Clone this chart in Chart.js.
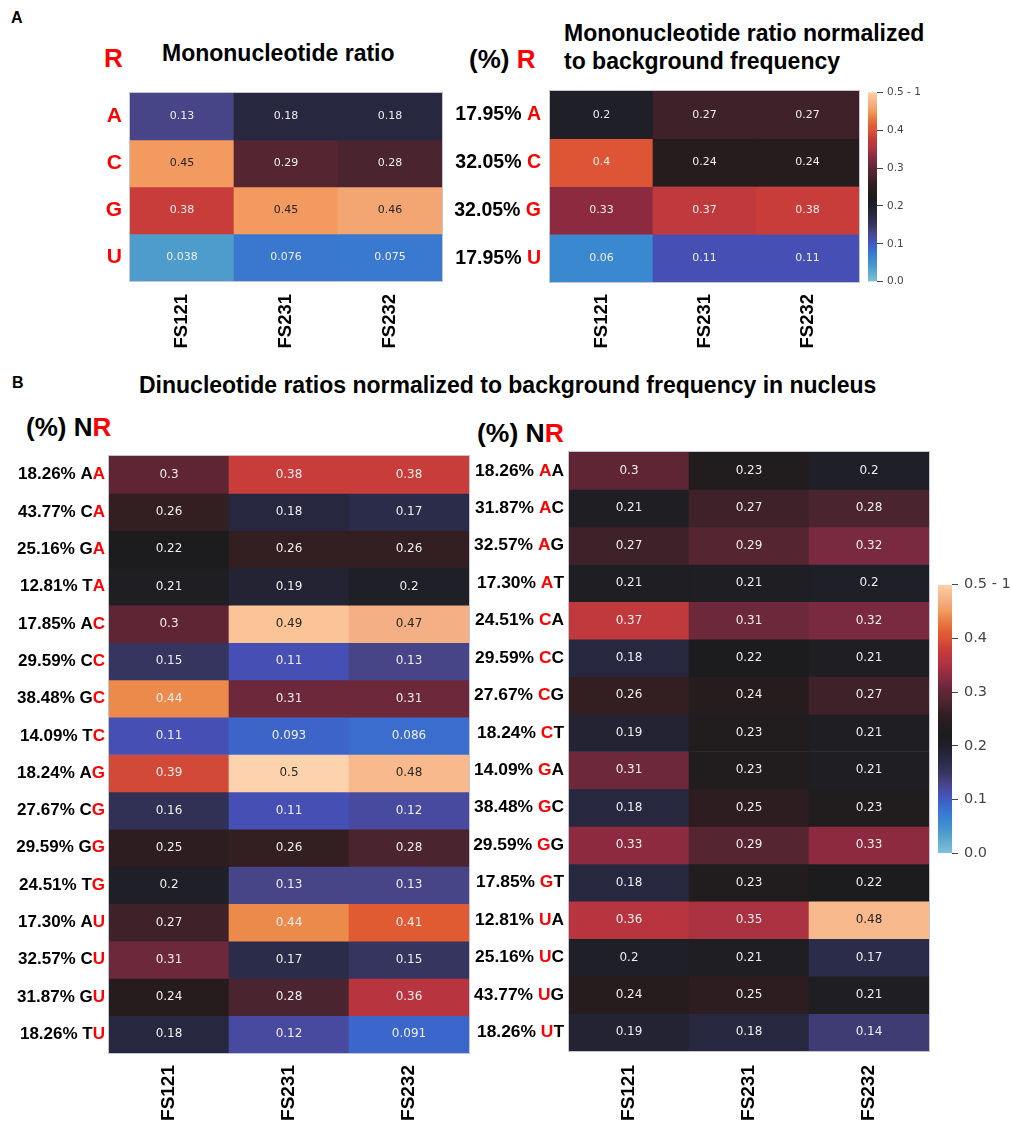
<!DOCTYPE html>
<html>
<head>
<meta charset="utf-8">
<script src="https://cdn.jsdelivr.net/npm/chart.js@4.4.0/dist/chart.umd.min.js"></script>
<style>
    body { margin: 0; background: #fff; width: 1011px; height: 1123px; position: relative; overflow: hidden; font-family: "Liberation Sans", Arial, sans-serif; }
    .t { position: absolute; font-weight: bold; white-space: nowrap; color: #000; line-height: 1; }
    .red { color: #ff0000; }
    canvas { position: absolute; }
</style>
</head>
<body>
<div class="t" style="left:11px;top:10px;font-size:16px">A</div>
<div class="t red" style="left:104px;top:45px;font-size:26px">R</div>
<div class="t" style="left:162px;top:42px;font-size:23px">Mononucleotide ratio</div>
<div class="t" style="left:469px;top:46px;font-size:26px">(%) <span class="red">R</span></div>
<div class="t" style="left:564px;top:21.5px;font-size:23px">Mononucleotide ratio normalized</div>
<div class="t" style="left:564px;top:49.5px;font-size:23px">to background frequency</div>

<div class="t" style="left:12px;top:375px;font-size:16px">B</div>
<div class="t" style="left:139px;top:373.5px;font-size:23px">Dinucleotide ratios normalized to background frequency in nucleus</div>
<div class="t" style="left:26px;top:414px;font-size:26px">(%) N<span class="red">R</span></div>
<div class="t" style="left:477px;top:419.5px;font-size:26.5px">(%) N<span class="red">R</span></div>

<canvas id="monoRaw"></canvas>
<canvas id="monoNorm"></canvas>
<canvas id="monoBar"></canvas>
<canvas id="diLeft"></canvas>
<canvas id="diRight"></canvas>
<canvas id="diBar"></canvas>

<script>
// --- dati ---
const samples = ["FS121", "FS231", "FS232"];

// Pannello A
const monoBases = ["A", "C", "G", "U"];
const monoPct = ["17.95%", "32.05%", "32.05%", "17.95%"];
const monoRaw = [
    [0.13, 0.18, 0.18],
    [0.45, 0.29, 0.28],
    [0.38, 0.45, 0.46],
    [0.038, 0.076, 0.075],
];
const monoNorm = [
    [0.2, 0.27, 0.27],
    [0.4, 0.24, 0.24],
    [0.33, 0.37, 0.38],
    [0.06, 0.11, 0.11],
];

// Pannello B, sinistra (NR, R in rosso)
const diLeftPairs = ["AA", "CA", "GA", "TA", "AC", "CC", "GC", "TC", "AG", "CG", "GG", "TG", "AU", "CU", "GU", "TU"];
const diLeftPct = ["18.26%", "43.77%", "25.16%", "12.81%", "17.85%", "29.59%", "38.48%", "14.09%",
    "18.24%", "27.67%", "29.59%", "24.51%", "17.30%", "32.57%", "31.87%", "18.26%"];
const diLeftVals = [
    [0.3, 0.38, 0.38],
    [0.26, 0.18, 0.17],
    [0.22, 0.26, 0.26],
    [0.21, 0.19, 0.2],
    [0.3, 0.49, 0.47],
    [0.15, 0.11, 0.13],
    [0.44, 0.31, 0.31],
    [0.11, 0.093, 0.086],
    [0.39, 0.5, 0.48],
    [0.16, 0.11, 0.12],
    [0.25, 0.26, 0.28],
    [0.2, 0.13, 0.13],
    [0.27, 0.44, 0.41],
    [0.31, 0.17, 0.15],
    [0.24, 0.28, 0.36],
    [0.18, 0.12, 0.091],
];

// Pannello B, destra (RN, R in rosso)
const diRightPairs = ["AA", "AC", "AG", "AT", "CA", "CC", "CG", "CT", "GA", "GC", "GG", "GT", "UA", "UC", "UG", "UT"];
const diRightPct = ["18.26%", "31.87%", "32.57%", "17.30%", "24.51%", "29.59%", "27.67%", "18.24%",
    "14.09%", "38.48%", "29.59%", "17.85%", "12.81%", "25.16%", "43.77%", "18.26%"];
const diRightVals = [
    [0.3, 0.23, 0.2],
    [0.21, 0.27, 0.28],
    [0.27, 0.29, 0.32],
    [0.21, 0.21, 0.2],
    [0.37, 0.31, 0.32],
    [0.18, 0.22, 0.21],
    [0.26, 0.24, 0.27],
    [0.19, 0.23, 0.21],
    [0.31, 0.23, 0.21],
    [0.18, 0.25, 0.23],
    [0.33, 0.29, 0.33],
    [0.18, 0.23, 0.22],
    [0.36, 0.35, 0.48],
    [0.2, 0.21, 0.17],
    [0.24, 0.25, 0.21],
    [0.19, 0.18, 0.14],
];

// tick della colorbar
const barTicks = [0, 0.1, 0.2, 0.3, 0.4, 0.5];

// --- mappa colori (tipo "icefire", centro nero a 0.2) ---
const cmapStops = [
    [0.0, "#7ec3d8"], [0.038, "#4e9ccb"], [0.06, "#3a88d0"], [0.076, "#3a78d0"],
    [0.09, "#3a68cd"], [0.11, "#4650b4"], [0.13, "#474488"], [0.15, "#36355f"],
    [0.17, "#2b2c4a"], [0.19, "#232334"], [0.2, "#1f1f28"], [0.22, "#1c1c1e"],
    [0.24, "#261c1e"], [0.26, "#331e22"], [0.28, "#4a2530"], [0.3, "#602535"],
    [0.32, "#7a2a40"], [0.33, "#8e2a40"], [0.36, "#b83540"], [0.38, "#c83c3a"],
    [0.4, "#dd5535"], [0.41, "#e05a32"], [0.44, "#ec8a4c"], [0.45, "#f29a60"],
    [0.47, "#f4b084"], [0.49, "#fbc496"], [0.5, "#fdd3ae"],
];

function hexToRgb(h) {
    return [parseInt(h.slice(1, 3), 16), parseInt(h.slice(3, 5), 16), parseInt(h.slice(5, 7), 16)];
}

function cmap(v) {
    v = Math.max(0, Math.min(0.5, v));
    for (let i = 1; i < cmapStops.length; i++) {
        const a = cmapStops[i - 1], b = cmapStops[i];
        if (v <= b[0]) {
            const t = (v - a[0]) / (b[0] - a[0]);
            const ca = hexToRgb(a[1]), cb = hexToRgb(b[1]);
            const c = ca.map((x, k) => Math.round(x + (cb[k] - x) * t));
            return "rgb(" + c.join(",") + ")";
        }
    }
    return cmapStops[cmapStops.length - 1][1];
}

function textColorFor(rgb) {
    const c = rgb.match(/\d+/g).map(Number).map((x) => {
        x /= 255;
        return x <= 0.03928 ? x / 12.92 : Math.pow((x + 0.055) / 1.055, 2.4);
    });
    const lum = 0.2126 * c[0] + 0.7152 * c[1] + 0.0722 * c[2];
    return lum > 0.408 ? "#262626" : "#eeeeee";
}

// plugin: numeri dentro le celle
const cellText = {
    id: "cellText",
    afterDatasetsDraw(chart, args, opts) {
        const ctx = chart.ctx;
        ctx.save();
        ctx.font = opts.size + 'px "DejaVu Sans"';
        ctx.textAlign = "center";
        ctx.textBaseline = "middle";
        chart.data.datasets.forEach((ds, r) => {
            chart.getDatasetMeta(r).data.forEach((bar, c) => {
                const v = ds.cellValues[c];
                ctx.fillStyle = textColorFor(ds.backgroundColor[c]);
                ctx.fillText(String(v), bar.x, (bar.y + bar.base) / 2);
            });
        });
        ctx.restore();
    },
};

// plugin: etichette righe con lettera rossa + bordo sottile
const rowLabels = {
    id: "rowLabels",
    afterDraw(chart, args, opts) {
        const ctx = chart.ctx;
        const area = chart.chartArea;
        const y = chart.scales.y;
        ctx.save();
        ctx.strokeStyle = "rgba(190,190,205,0.9)";
        ctx.lineWidth = 1;
        ctx.strokeRect(area.left - 0.5, area.top - 0.5, area.right - area.left + 1, area.bottom - area.top + 1);
        ctx.textBaseline = "middle";
        ctx.textAlign = "left";
        opts.rows.forEach((parts, r) => {
            const py = y.getPixelForValue(r + 0.5);
            let x = area.left - opts.gap;
            for (let i = parts.length - 1; i >= 0; i--) {
                const p = parts[i];
                ctx.font = "bold " + p.size + 'px "Liberation Sans"';
                x -= ctx.measureText(p.text).width;
                ctx.fillStyle = p.color;
                ctx.fillText(p.text, x, py);
            }
        });
        ctx.restore();
    },
};

function makeHeatmap(id, values, rows, g) {
    const canvas = document.getElementById(id);
    canvas.width = g.labelSpace + g.w + 4;
    canvas.height = 4 + g.h + g.axisH;
    canvas.style.left = g.x - g.labelSpace + "px";
    canvas.style.top = g.y - 4 + "px";

    const datasets = values.map((rowVals, r) => {
        const colors = rowVals.map(cmap);
        return {
            data: samples.map(() => [r, r + 1]),
            cellValues: rowVals,
            backgroundColor: colors,
            borderWidth: 0,
            grouped: false,
            barPercentage: 1,
            categoryPercentage: 1,
        };
    });

    new Chart(canvas.getContext("2d"), {
        type: "bar",
        data: { labels: samples, datasets: datasets },
        options: {
            responsive: false,
            animation: false,
            layout: { padding: { left: g.labelSpace, top: 4, right: 4, bottom: 0 } },
            plugins: {
                legend: { display: false },
                tooltip: { enabled: false },
                cellText: { size: g.cellFont },
                rowLabels: { rows: rows, gap: g.gap },
            },
            scales: {
                x: {
                    type: "category",
                    offset: true,
                    grid: { display: false, drawTicks: false },
                    border: { display: false },
                    ticks: {
                        minRotation: 90,
                        maxRotation: 90,
                        padding: g.tickPad,
                        color: "#000",
                        font: { family: "Liberation Sans", weight: "bold", size: g.tickFont },
                    },
                    afterFit: (s) => { s.height = g.axisH; },
                },
                y: {
                    type: "linear",
                    reverse: true,
                    min: 0,
                    max: values.length,
                    display: false,
                },
            },
        },
        plugins: [cellText, rowLabels],
    });
}

function makeColorbar(id, g) {
    const canvas = document.getElementById(id);
    canvas.width = g.w + g.axisW;
    canvas.height = g.h + 20;
    canvas.style.left = g.x + "px";
    canvas.style.top = g.y - 10 + "px";

    new Chart(canvas.getContext("2d"), {
        type: "bar",
        data: {
            labels: [""],
            datasets: [{
                data: [[barTicks[0], barTicks[barTicks.length - 1]]],
                barPercentage: 1,
                categoryPercentage: 1,
                borderWidth: 0,
                backgroundColor: (c) => {
                    const a = c.chart.chartArea;
                    if (!a) return null;
                    const grad = c.chart.ctx.createLinearGradient(0, a.bottom, 0, a.top);
                    cmapStops.forEach((s) => grad.addColorStop(s[0] / 0.5, s[1]));
                    return grad;
                },
            }],
        },
        options: {
            responsive: false,
            animation: false,
            layout: { padding: { left: 0, top: 10, bottom: 10, right: 0 } },
            plugins: { legend: { display: false }, tooltip: { enabled: false } },
            scales: {
                x: { display: false },
                y: {
                    position: "right",
                    min: 0,
                    max: 0.5,
                    afterBuildTicks: (s) => { s.ticks = barTicks.map((v) => ({ value: v })); },
                    ticks: {
                        padding: g.pad,
                        color: "#444",
                        font: { family: "DejaVu Sans", size: g.font },
                        callback: (v) => (Math.abs(v - 0.5) < 1e-9 ? "0.5 - 1" : v.toFixed(1)),
                    },
                    grid: { drawOnChartArea: false, drawTicks: true, tickLength: g.tick, color: "#444" },
                    border: { display: false },
                    afterFit: (s) => { s.width = g.axisW; },
                },
            },
        },
    });
}

const RED = "#ff0000";
const BLACK = "#000000";

makeHeatmap("monoRaw", monoRaw,
    monoBases.map((b) => [{ text: b, color: RED, size: 21 }]),
    { x: 130, y: 93, w: 312, h: 188, labelSpace: 130, axisH: 75, gap: 8, cellFont: 11, tickFont: 18.5, tickPad: 13 });

makeHeatmap("monoNorm", monoNorm,
    monoBases.map((b, i) => [{ text: monoPct[i] + " ", color: BLACK, size: 19.5 }, { text: b, color: RED, size: 19.5 }]),
    { x: 550, y: 91, w: 309, h: 191, labelSpace: 100, axisH: 75, gap: 9, cellFont: 11, tickFont: 18.5, tickPad: 12 });

makeColorbar("monoBar", { x: 868, y: 92, w: 9, h: 190, axisW: 60, font: 10.5, tick: 6, pad: 4 });

makeHeatmap("diLeft", diLeftVals,
    diLeftPairs.map((p, i) => [
        { text: diLeftPct[i] + " " + p[0], color: BLACK, size: 17 },
        { text: p[1], color: RED, size: 17 },
    ]),
    { x: 109, y: 456, w: 360, h: 597, labelSpace: 109, axisH: 70, gap: 4, cellFont: 12, tickFont: 19, tickPad: 12 });

makeHeatmap("diRight", diRightVals,
    diRightPairs.map((p, i) => [
        { text: diRightPct[i] + " ", color: BLACK, size: 17.4 },
        { text: p[0], color: RED, size: 17.4 },
        { text: p[1], color: BLACK, size: 17.4 },
    ]),
    { x: 569, y: 452, w: 360, h: 599, labelSpace: 100, axisH: 72, gap: 5, cellFont: 12, tickFont: 19, tickPad: 14 });

makeColorbar("diBar", { x: 938, y: 580, w: 14, h: 278, axisW: 73, font: 14.5, tick: 6, pad: 6 });
</script>
</body>
</html>
